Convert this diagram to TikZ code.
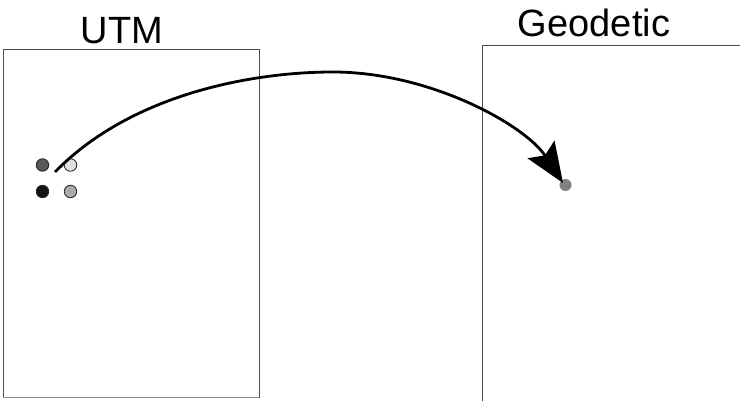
\documentclass[tikz,border=0pt]{standalone}
\usepackage{fontspec}
\setmainfont{Liberation Sans}
\usetikzlibrary{arrows.meta}
\begin{document}
\begin{tikzpicture}[x=1pt,y=-1pt,
  frame/.style={draw=black!70, line width=1pt},
  dot/.style={circle, inner sep=0pt, minimum size=12.5pt, draw=black!85, line width=0.8pt},
  title/.style={font=\fontsize{38}{38}\selectfont, inner sep=0pt, anchor=base},
  conn/.style={line width=2.8pt, -{Stealth[length=40pt,width=32pt,inset=7pt]}}]
\useasboundingbox (0,0) rectangle (740,401);
% frames
\draw[frame] (3,50) rectangle (259,397);
\draw[draw=black!45, line width=1.5pt] (3,397.5) -- (259,397.5);
\draw[frame] (482,401) -- (482,46) -- (740,46);
% titles
\node[title] (utm) at (122,44) {UTM};
\node[title] (geo) at (594,37) {Geodetic};
% dots
\node[dot, fill=black!65] (d1) at (42.5,165) {};
\node[dot, fill=black!12] (d2) at (70.5,165) {};
\node[dot, fill=black!92] (d3) at (42.5,191.5) {};
\node[dot, fill=black!33] (d4) at (70.5,191.5) {};
\node[circle, inner sep=0pt, minimum size=12pt, fill=black!50] (tg) at (565.5,185) {};
\coordinate (s) at (55,172);
\coordinate (pk) at (333,72);
\coordinate (tip) at (563,183);
\draw[conn] (s) .. controls (130,95) and (250,72) .. (pk)
  .. controls (430,72) and (525,125) .. (tip);
\end{tikzpicture}
\end{document}
